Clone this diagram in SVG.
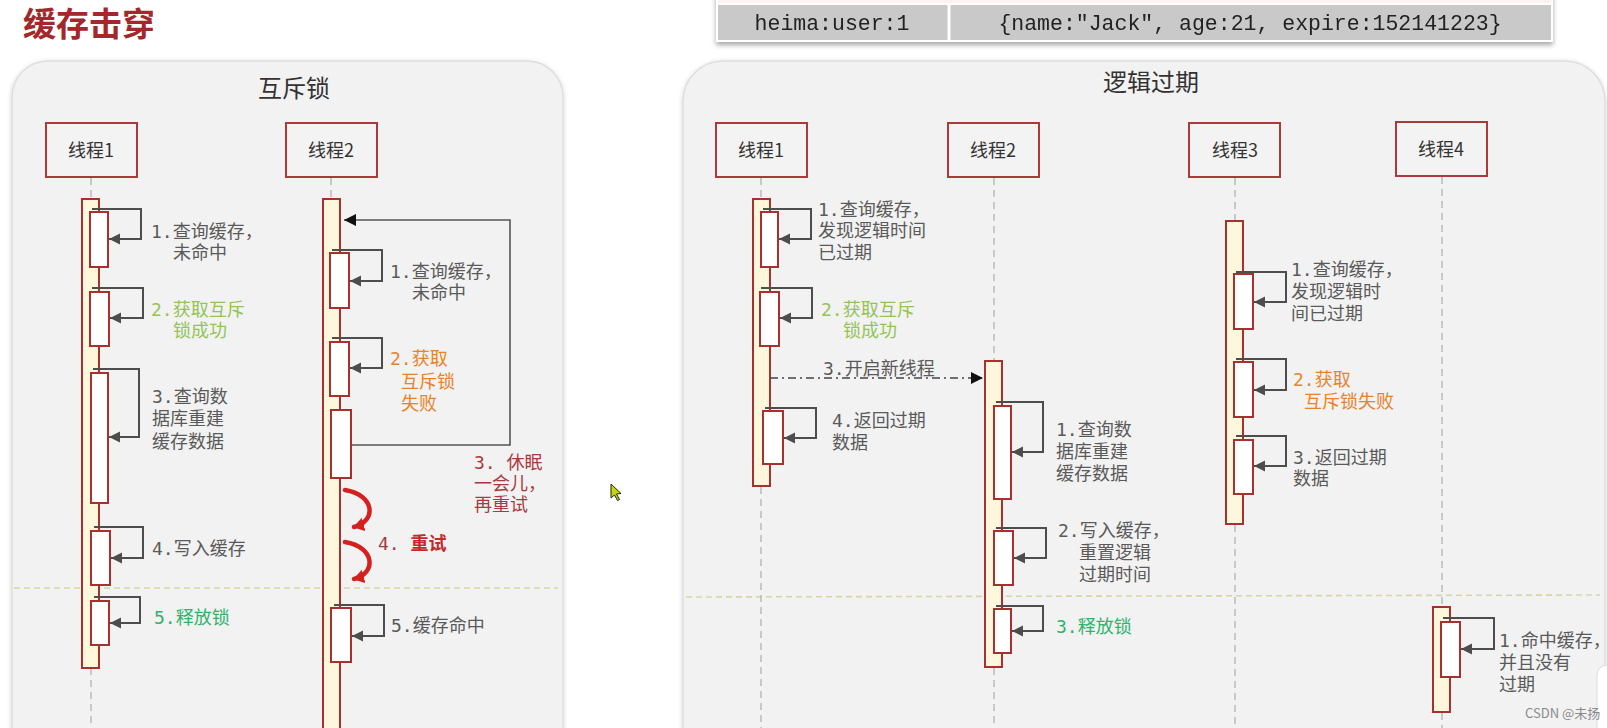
<svg xmlns="http://www.w3.org/2000/svg" width="1607" height="728" viewBox="0 0 1607 728">
<defs>
<style>
.panel{fill:#f2f2f2;stroke:#dedede;stroke-width:1.5}
.box{fill:#f3f3f3;stroke:#ab3a3a;stroke-width:2}
.boxt{font-family:'Noto Sans CJK SC','Noto Sans',sans-serif;font-size:18px;fill:#333;text-anchor:middle}
.bar{fill:#fff7dc;stroke:#a8302f;stroke-width:2}
.sub{fill:#ffffff;stroke:#a8302f;stroke-width:2}
.life{stroke:#bdbdbd;stroke-width:1.6;stroke-dasharray:7 5;fill:none}
.sep{stroke:#d6d6a2;stroke-width:1.6;stroke-dasharray:6 4;fill:none}
.self{fill:none;stroke:#4d4d4d;stroke-width:2;marker-end:url(#ah)}
.lbl{font-family:'DejaVu Sans Mono','Noto Sans CJK SC',monospace;font-size:18px;fill:#5a5a5a}
.g1{fill:#93c455}
.g2{fill:#2fb36c}
.or{fill:#e8832a}
.dr{fill:#a83a3f}
.ttl{font-family:'Noto Sans CJK SC','Noto Sans',sans-serif;font-size:24px;fill:#333;text-anchor:middle}
</style>
<marker id="ah" markerWidth="12" markerHeight="12" refX="11" refY="6" orient="auto" markerUnits="userSpaceOnUse"><path d="M0,0.5 L11,6 L0,11.5 z" fill="#4d4d4d"/></marker>
<marker id="ahk" markerWidth="14" markerHeight="14" refX="12" refY="6" orient="auto" markerUnits="userSpaceOnUse"><path d="M0,0 L12,6 L0,12 z" fill="#111"/></marker>
<marker id="ahr" markerWidth="16" markerHeight="16" refX="10" refY="7" orient="auto" markerUnits="userSpaceOnUse"><path d="M0,0 L11,7 L0,14 z" fill="#d61f1f"/></marker>
<filter id="sh" x="-5%" y="-5%" width="110%" height="110%"><feDropShadow dx="0" dy="1" stdDeviation="2" flood-color="#000" flood-opacity="0.18"/></filter>
<filter id="sh2" x="-5%" y="-30%" width="110%" height="170%"><feDropShadow dx="0" dy="3" stdDeviation="2.5" flood-color="#000" flood-opacity="0.35"/></filter>
</defs>

<rect width="1607" height="728" fill="#ffffff"/>

<text x="23" y="36" font-family="'Noto Sans CJK SC','Noto Sans',sans-serif" font-size="33" font-weight="bold" fill="#a3282c">缓存击穿</text>

<g id="table" filter="url(#sh2)">
<rect x="717" y="-12" width="835" height="16" fill="#fcf2f2" stroke="#ffffff" stroke-width="2"/>
<rect x="717" y="4" width="835" height="37" fill="#c9c9c9" stroke="#ffffff" stroke-width="2"/>
<line x1="949" y1="4" x2="949" y2="41" stroke="#ffffff" stroke-width="3"/>
<text x="832" y="30" font-family="'Liberation Mono','DejaVu Sans Mono',monospace" font-size="21.5" fill="#222" text-anchor="middle">heima:user:1</text>
<text x="1250" y="30" font-family="'Liberation Mono','DejaVu Sans Mono',monospace" font-size="21.5" fill="#222" text-anchor="middle">{name:"Jack", age:21, expire:152141223}</text>
</g>

<g id="panel-left">
<rect class="panel" x="12" y="61" width="551" height="720" rx="36" filter="url(#sh)"/>
<text class="ttl" x="294" y="97">互斥锁</text>
<line class="sep" x1="14" y1="588" x2="558" y2="588"/>
</g>

<g id="panel-right">
<rect class="panel" x="683" y="61" width="922" height="720" rx="40" filter="url(#sh)"/>
<text class="ttl" x="1151" y="91">逻辑过期</text>
<line class="sep" x1="686" y1="597" x2="1600" y2="595"/>
</g>

<!-- Left: 线程1 -->
<g id="L-thread1">
<rect class="box" x="46" y="123" width="91" height="54"/>
<text class="boxt" x="91" y="157">线程1</text>
<line class="life" x1="91" y1="178" x2="91" y2="199"/>
<line class="life" x1="91" y1="668" x2="91" y2="728"/>
<rect class="bar" x="82" y="199" width="17" height="469"/>
<rect class="sub" x="90" y="212" width="18" height="55"/>
<rect class="sub" x="90" y="292" width="19" height="54"/>
<rect class="sub" x="91" y="373" width="17" height="130"/>
<rect class="sub" x="91" y="531" width="19" height="54"/>
<rect class="sub" x="91" y="601" width="18" height="44"/>
<text class="lbl" x="151" y="238">1.查询缓存，</text>
<text class="lbl" x="173" y="259">未命中</text>
<text class="lbl g1" x="151" y="316">2.获取互斥</text>
<text class="lbl g1" x="173" y="337">锁成功</text>
<text class="lbl" x="152" y="403">3.查询数</text>
<text class="lbl" x="152" y="425">据库重建</text>
<text class="lbl" x="152" y="448">缓存数据</text>
<text class="lbl" x="152" y="555">4.写入缓存</text>
<text class="lbl g2" x="154" y="624">5.释放锁</text>
</g>

<!-- Left: 线程2 -->
<g id="L-thread2">
<rect class="box" x="286" y="123" width="91" height="54"/>
<text class="boxt" x="331" y="157">线程2</text>
<line class="life" x1="331" y1="178" x2="331" y2="199"/>
<rect class="bar" x="323" y="199" width="17" height="560"/>
<rect class="sub" x="330" y="253" width="19" height="55"/>
<rect class="sub" x="330" y="342" width="19" height="54"/>
<rect class="sub" x="331" y="410" width="20" height="68"/>
<rect class="sub" x="331" y="608" width="20" height="54"/>
<text class="lbl" x="390" y="278">1.查询缓存，</text>
<text class="lbl" x="412" y="299">未命中</text>
<text class="lbl or" x="390" y="365">2.获取</text>
<text class="lbl or" x="401" y="388">互斥锁</text>
<text class="lbl or" x="401" y="410">失败</text>
<text class="lbl dr" x="474" y="469">3. 休眠</text>
<text class="lbl dr" x="474" y="490">一会儿，</text>
<text class="lbl dr" x="474" y="511">再重试</text>
<text class="lbl" x="378" y="550"><tspan class="dr">4. </tspan><tspan fill="#c42a2a" font-weight="bold">重试</tspan></text>
<text class="lbl" x="391" y="632">5.缓存命中</text>
</g>

<!-- Right: 线程1 -->
<g id="R-thread1">
<rect class="box" x="716" y="123" width="91" height="54"/>
<text class="boxt" x="761" y="157">线程1</text>
<line class="life" x1="761" y1="178" x2="761" y2="199"/>
<line class="life" x1="761" y1="487" x2="761" y2="728"/>
<rect class="bar" x="753" y="199" width="17" height="287"/>
<rect class="sub" x="761" y="212" width="17" height="55"/>
<rect class="sub" x="760" y="292" width="19" height="54"/>
<rect class="sub" x="763" y="411" width="20" height="53"/>
<text class="lbl" x="818" y="216">1.查询缓存，</text>
<text class="lbl" x="818" y="237">发现逻辑时间</text>
<text class="lbl" x="818" y="259">已过期</text>
<text class="lbl g1" x="821" y="316">2.获取互斥</text>
<text class="lbl g1" x="843" y="337">锁成功</text>
<text class="lbl" x="823" y="375">3.开启新线程</text>
<text class="lbl" x="832" y="427">4.返回过期</text>
<text class="lbl" x="832" y="449">数据</text>
</g>

<!-- Right: 线程2 -->
<g id="R-thread2">
<rect class="box" x="948" y="123" width="91" height="54"/>
<text class="boxt" x="993" y="157">线程2</text>
<line class="life" x1="994" y1="178" x2="994" y2="361"/>
<line class="life" x1="994" y1="668" x2="994" y2="728"/>
<rect class="bar" x="985" y="361" width="17" height="306"/>
<rect class="sub" x="994" y="406" width="17" height="93"/>
<rect class="sub" x="994" y="531" width="19" height="54"/>
<rect class="sub" x="994" y="609" width="17" height="44"/>
<text class="lbl" x="1056" y="436">1.查询数</text>
<text class="lbl" x="1056" y="458">据库重建</text>
<text class="lbl" x="1056" y="480">缓存数据</text>
<text class="lbl" x="1058" y="537">2.写入缓存，</text>
<text class="lbl" x="1079" y="559">重置逻辑</text>
<text class="lbl" x="1079" y="581">过期时间</text>
<text class="lbl g2" x="1056" y="633">3.释放锁</text>
</g>

<!-- Right: 线程3 -->
<g id="R-thread3">
<rect class="box" x="1189" y="123" width="91" height="54"/>
<text class="boxt" x="1235" y="157">线程3</text>
<line class="life" x1="1235" y1="178" x2="1235" y2="221"/>
<line class="life" x1="1235" y1="525" x2="1235" y2="728"/>
<rect class="bar" x="1226" y="221" width="17" height="303"/>
<rect class="sub" x="1234" y="274" width="19" height="55"/>
<rect class="sub" x="1234" y="362" width="19" height="55"/>
<rect class="sub" x="1234" y="440" width="19" height="54"/>
<text class="lbl" x="1291" y="276">1.查询缓存，</text>
<text class="lbl" x="1291" y="298">发现逻辑时</text>
<text class="lbl" x="1291" y="320">间已过期</text>
<text class="lbl or" x="1293" y="386">2.获取</text>
<text class="lbl or" x="1304" y="408">互斥锁失败</text>
<text class="lbl" x="1293" y="464">3.返回过期</text>
<text class="lbl" x="1293" y="485">数据</text>
</g>

<!-- Right: 线程4 -->
<g id="R-thread4">
<rect class="box" x="1396" y="122" width="91" height="54"/>
<text class="boxt" x="1441" y="156">线程4</text>
<line class="life" x1="1442" y1="177" x2="1442" y2="607"/>
<line class="life" x1="1442" y1="713" x2="1442" y2="728"/>
<rect class="bar" x="1433" y="607" width="17" height="105"/>
<rect class="sub" x="1441" y="622" width="19" height="55"/>
<text class="lbl" x="1499" y="647" font-size="16">1.命中缓存，</text>
<text class="lbl" x="1499" y="669">并且没有</text>
<text class="lbl" x="1499" y="691">过期</text>
</g>

<g id="connectors">
<path class="self" d="M92 209 H141 V239 H109"/>
<path class="self" d="M92 288 H143 V318 H110"/>
<path class="self" d="M93 369 H139 V437 H109"/>
<path class="self" d="M94 527 H143 V558 H111"/>
<path class="self" d="M94 597 H140 V623 H110"/>
<path class="self" d="M332 250 H382 V281 H350"/>
<path class="self" d="M332 338 H382 V368 H350"/>
<path class="self" d="M334 605 H384 V636 H352"/>
<path d="M351 445 H510 V220 H344" fill="none" stroke="#555" stroke-width="1.6" marker-end="url(#ahk)"/>
<path d="M345 490 C375 495 377 521 354 527" fill="none" stroke="#d61f1f" stroke-width="4.5" stroke-linecap="round" marker-end="url(#ahr)"/>
<path d="M345 542 C375 547 377 573 354 579" fill="none" stroke="#d61f1f" stroke-width="4.5" stroke-linecap="round" marker-end="url(#ahr)"/>
<path class="self" d="M763 209 H811 V239 H779"/>
<path class="self" d="M761 288 H812 V318 H780"/>
<path class="self" d="M765 408 H816 V438 H784"/>
<path d="M770 378 H983" fill="none" stroke="#444" stroke-width="1.6" stroke-dasharray="8 4 2 4" marker-end="url(#ahk)"/>
<path class="self" d="M996 402 H1043 V452 H1012"/>
<path class="self" d="M996 528 H1046 V558 H1014"/>
<path class="self" d="M996 606 H1043 V631 H1012"/>
<path class="self" d="M1236 272 H1286 V302 H1254"/>
<path class="self" d="M1236 359 H1286 V390 H1254"/>
<path class="self" d="M1236 436 H1286 V466 H1254"/>
<path class="self" d="M1443 618 H1494 V649 H1461"/>
</g>

<path d="M611 484 L611 498 L614.5 495 L617.5 500.5 L619.5 499.5 L616.5 494 L621 493.5 Z" fill="#c6d600" stroke="#222" stroke-width="1"/>

<rect x="1597" y="665" width="40" height="90" rx="10" fill="#ffffff" stroke="#dddddd" stroke-width="1"/>
<text x="1525" y="718" font-family="'Noto Sans CJK SC','Noto Sans',sans-serif" font-size="13" fill="#8a8a8a">CSDN @未扬</text>
</svg>
